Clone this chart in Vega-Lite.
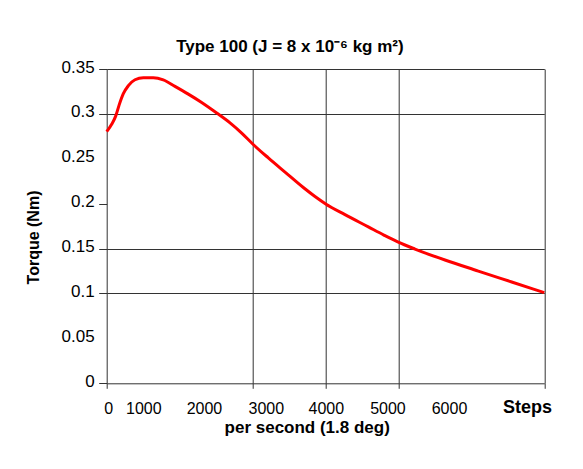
{
  "$schema": "https://vega.github.io/schema/vega-lite/v6.json",
  "width": 437.6,
  "height": 314.3,
  "autosize": {"type": "none"},
  "padding": {"left": 106.7, "top": 69, "right": 38.7, "bottom": 85.7},
  "background": "white",
  "title": {
    "text": "Type 100 (J = 8 x 10⁻⁶ kg m²)",
    "font": "Liberation Sans",
    "fontSize": 17,
    "fontWeight": "bold",
    "color": "black",
    "anchor": "middle",
    "frame": "group",
    "dx": -35.6,
    "baseline": "alphabetic",
    "offset": -11
  },
  "config": {"view": {"stroke": null}, "font": "Liberation Sans"},
  "layer": [
    {
      "data": {
        "values": [
          {"speed": 0, "torque": 0.2802},
          {"speed": 68, "torque": 0.2884},
          {"speed": 123, "torque": 0.2975},
          {"speed": 169, "torque": 0.3095},
          {"speed": 228, "torque": 0.3225},
          {"speed": 297, "torque": 0.3314},
          {"speed": 388, "torque": 0.3380},
          {"speed": 502, "torque": 0.3403},
          {"speed": 639, "torque": 0.3403},
          {"speed": 776, "torque": 0.3378},
          {"speed": 936, "torque": 0.3306},
          {"speed": 1119, "torque": 0.3220},
          {"speed": 1302, "torque": 0.3127},
          {"speed": 1508, "torque": 0.3010},
          {"speed": 1691, "torque": 0.2900},
          {"speed": 1851, "torque": 0.2786},
          {"speed": 2002, "torque": 0.2665},
          {"speed": 2216, "torque": 0.2510},
          {"speed": 2445, "torque": 0.2352},
          {"speed": 2696, "torque": 0.2180},
          {"speed": 2856, "torque": 0.2080},
          {"speed": 3003, "torque": 0.1997},
          {"speed": 3267, "torque": 0.1878},
          {"speed": 3587, "torque": 0.1742},
          {"speed": 3800, "torque": 0.1651},
          {"speed": 3990, "torque": 0.1575},
          {"speed": 4227, "torque": 0.1495},
          {"speed": 4638, "torque": 0.1373},
          {"speed": 5095, "torque": 0.1250},
          {"speed": 5553, "torque": 0.1128},
          {"speed": 6000, "torque": 0.1009}
        ]
      },
      "mark": {"type": "line", "color": "#ff0000", "strokeWidth": 3, "interpolate": "monotone"},
      "encoding": {
        "x": {
          "field": "speed",
          "type": "quantitative",
          "scale": {"domain": [0, 6000], "nice": false, "zero": true},
          "axis": {
            "values": [0, 1000, 2000, 3000, 4000, 5000, 6000],
            "format": "d",
            "labelFont": "Liberation Sans",
            "labelFontSize": 16,
            "labelColor": "black",
            "labelPadding": 12,
            "labelOverlap": false,
            "labelFlush": false,
            "labelOffset": {
              "condition": [
                {"test": "datum.value == 0", "value": 1.6},
                {"test": "datum.value == 1000", "value": -36.3},
                {"test": "datum.value == 2000", "value": -48.6},
                {"test": "datum.value == 3000", "value": -59.7},
                {"test": "datum.value == 4000", "value": -72.6},
                {"test": "datum.value == 5000", "value": -83.9}
              ],
              "value": -95.3
            },
            "tickSize": 5,
            "tickColor": "#333333",
            "tickOpacity": {"condition": {"test": "datum.value == 1000 || datum.value == 5000", "value": 0}, "value": 1},
            "domainColor": "#333333",
            "grid": true,
            "gridColor": "#333333",
            "gridOpacity": {"condition": {"test": "datum.value == 2000 || datum.value == 3000 || datum.value == 4000 || datum.value == 6000", "value": 1}, "value": 0},
            "title": "per second (1.8 deg)",
            "titleFont": "Liberation Sans",
            "titleFontSize": 17,
            "titleFontWeight": "bold",
            "titleColor": "black",
            "titleX": 200,
            "titleY": 48.7,
            "titleBaseline": "alphabetic",
            "titleAlign": "center"
          }
        },
        "y": {
          "field": "torque",
          "type": "quantitative",
          "scale": {"domain": [0, 0.35], "nice": false},
          "axis": {
            "values": [0, 0.05, 0.1, 0.15, 0.2, 0.25, 0.3, 0.35],
            "format": "~g",
            "labelFont": "Liberation Sans",
            "labelFontSize": 17,
            "labelColor": "black",
            "labelPadding": 4.5,
            "labelOffset": -2,
            "labelOverlap": false,
            "labelFlush": false,
            "tickSize": 8,
            "tickColor": "#333333",
            "tickOpacity": {"condition": {"test": "datum.value == 0.25 || datum.value == 0.05", "value": 0}, "value": 1},
            "domainColor": "#333333",
            "grid": true,
            "gridColor": "#333333",
            "gridOpacity": {"condition": {"test": "datum.value == 0.35 || datum.value == 0.3 || datum.value == 0.15 || datum.value == 0.1", "value": 1}, "value": 0},
            "title": "Torque (Nm)",
            "titleFont": "Liberation Sans",
            "titleFontSize": 16,
            "titleFontWeight": "bold",
            "titleColor": "black",
            "titleAngle": 270,
            "titleX": -68.4,
            "titleY": 168,
            "titleBaseline": "alphabetic",
            "titleAlign": "center"
          }
        }
      }
    },
    {
      "data": {"values": [{"label": "Steps"}]},
      "mark": {
        "type": "text",
        "font": "Liberation Sans",
        "fontWeight": "bold",
        "fontSize": 18,
        "color": "black",
        "align": "center",
        "baseline": "alphabetic",
        "dx": -16.8,
        "dy": 30
      },
      "encoding": {
        "x": {"datum": 6000, "type": "quantitative"},
        "y": {"datum": 0, "type": "quantitative"},
        "text": {"field": "label"}
      }
    }
  ]
}
